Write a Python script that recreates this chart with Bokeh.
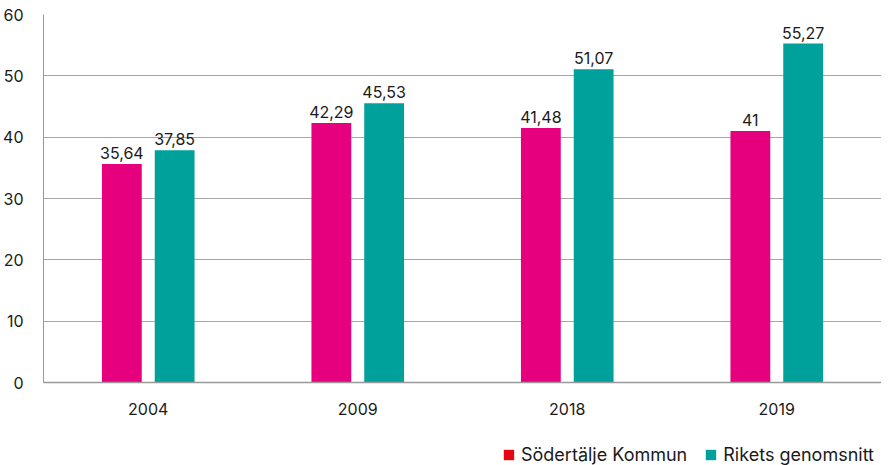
from bokeh.plotting import figure
from bokeh.layouts import column
from bokeh.models import ColumnDataSource, LabelSet, Legend, LegendItem, FactorRange, Range1d, FixedTicker
from bokeh.core.properties import value
from bokeh.transform import dodge
from bokeh.embed import file_html
from bokeh.resources import INLINE

years = ["2004", "2009", "2018", "2019"]
sodertalje = [35.64, 42.29, 41.48, 41.0]
riket = [37.85, 45.53, 51.07, 55.27]
series_names = ["Södertälje Kommun", "Rikets genomsnitt"]
y_ticks = [0, 10, 20, 30, 40, 50, 60]

PINK = "#E6007E"
TEAL = "#00A19A"
RED = "#E30613"
FONT = "Inter"
TXT = "#1a1a1a"


def fmt(v):
    return f"{v:g}".replace(".", ",")


src = ColumnDataSource(dict(
    year=years, s=sodertalje, r=riket,
    s_lbl=[fmt(v) for v in sodertalje], r_lbl=[fmt(v) for v in riket],
))

p = figure(x_range=FactorRange(*years), y_range=Range1d(0, 60),
           frame_width=838, frame_height=368, output_backend="svg", toolbar_location=None,
           min_border_left=0, min_border_right=0, min_border_top=14, min_border_bottom=0)
p.outline_line_color = None
p.xgrid.grid_line_color = None
p.ygrid.grid_line_color = "#a6a6a6"
p.ygrid.grid_line_width = 1

p.yaxis.ticker = FixedTicker(ticks=y_ticks)
for ax in (p.xaxis, p.yaxis):
    ax.major_tick_line_color = None
    ax.minor_tick_line_color = None
    ax.axis_line_color = "#999999"
    ax.major_label_text_font = FONT
    ax.major_label_text_font_size = "16px"
    ax.major_label_text_color = TXT
p.xaxis.axis_line_width = 1.5
p.yaxis.major_label_standoff = 14
p.xaxis.major_label_standoff = 14

off = 0.126
w = 0.19
p.vbar(x=dodge("year", -off, range=p.x_range), top="s", width=w, source=src,
       fill_color=PINK, line_color=None)
p.vbar(x=dodge("year", off, range=p.x_range), top="r", width=w, source=src,
       fill_color=TEAL, line_color=None)

for field, lbl, o in (("s", "s_lbl", -off), ("r", "r_lbl", off)):
    p.add_layout(LabelSet(x=dodge("year", o, range=p.x_range), y=field, text=lbl, source=src,
                          text_align="center", text_baseline="bottom", y_offset=5,
                          text_font=value(FONT), text_font_size="16px", text_color=TXT))

# legend in a separate strip below the chart
lf = figure(width=874, height=48, x_range=Range1d(0, 1), y_range=Range1d(0, 1),
            output_backend="svg", toolbar_location=None, min_border=0,
            x_axis_location=None, y_axis_location=None)
lf.outline_line_color = None
lf.grid.grid_line_color = None
d1 = lf.vbar(x=[0], top=[0], bottom=[0], width=0.0, fill_color=RED, line_color=None)
d2 = lf.vbar(x=[0], top=[0], bottom=[0], width=0.0, fill_color=TEAL, line_color=None)
legend = Legend(items=[LegendItem(label=series_names[0], renderers=[d1]),
                       LegendItem(label=series_names[1], renderers=[d2])],
                orientation="horizontal", location="bottom_right",
                glyph_width=13, glyph_height=13, label_standoff=6, spacing=17,
                padding=0, margin=0, border_line_color=None, background_fill_alpha=0,
                label_height=16,
                label_text_font=FONT, label_text_font_size="18px", label_text_color=TXT)
lf.add_layout(legend, "center")

layout = column(p, lf, spacing=0)
open("out.html", "w").write(file_html(layout, INLINE))
